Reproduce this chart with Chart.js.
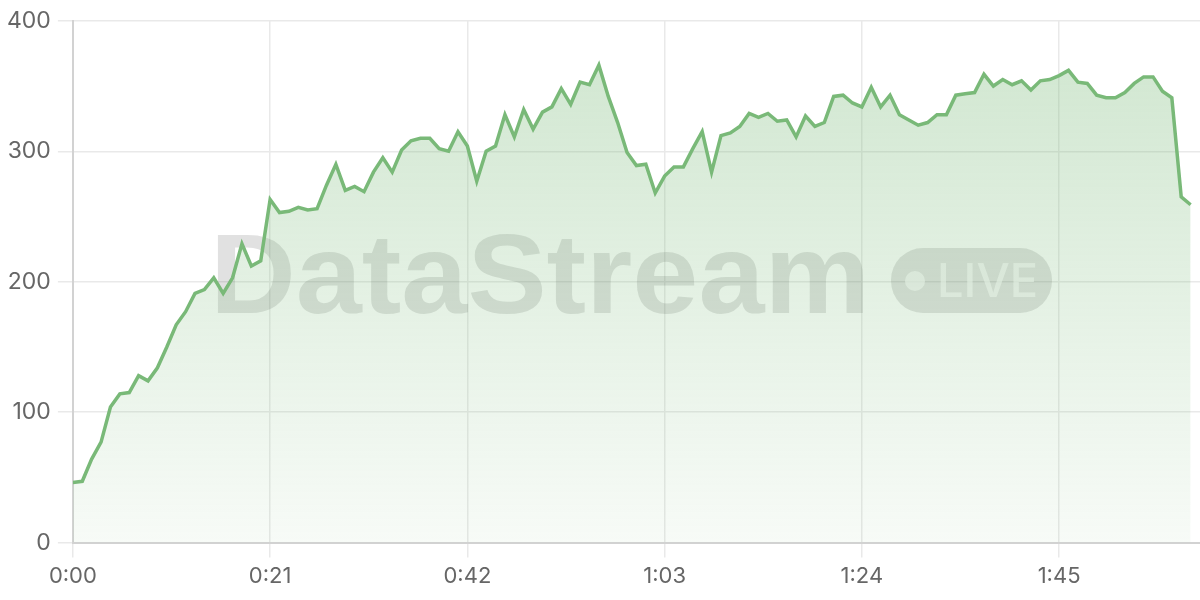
<!DOCTYPE html>
<html>
<head>
<meta charset="utf-8">
<script src="https://cdn.jsdelivr.net/npm/chart.js@4/dist/chart.umd.min.js"></script>
<style>
    html, body { margin: 0; padding: 0; background: #fff; }
    #wrap { width: 1200px; height: 600px; }
</style>
</head>
<body>
<div id="wrap"><canvas id="streamChart"></canvas></div>
<script>
// elapsed seconds, one sample per second
const seconds = Array.from({ length: 120 }, (_, i) => i);

const viewers = [
    46, 47, 64, 77, 104, 114, 115, 128, 124, 134,
    150, 167, 177, 191, 194, 203, 191, 203, 229, 212,
    216, 263, 253, 254, 257, 255, 256, 274, 290, 270,
    273, 269, 284, 295, 284, 301, 308, 310, 310, 302,
    300, 315, 304, 277, 300, 304, 328, 311, 332, 317,
    330, 334, 348, 336, 353, 351, 366, 342, 322, 299,
    289, 290, 268, 281, 288, 288, 302, 315, 284, 312,
    314, 319, 329, 326, 329, 323, 324, 311, 327, 319,
    322, 342, 343, 337, 334, 349, 334, 343, 328, 324,
    320, 322, 328, 328, 343, 344, 345, 359, 350, 355,
    351, 354, 347, 354, 355, 358, 362, 353, 352, 343,
    341, 341, 345, 352, 357, 357, 346, 341, 265, 259
];

const xTicks = [0, 21, 42, 63, 84, 105];
const xTickLabels = ['0:00', '0:21', '0:42', '1:03', '1:24', '1:45'];
const yTicks = [0, 100, 200, 300, 400];

document.addEventListener('DOMContentLoaded', () => {
    // watermark sits between the grid and the line
    const watermark = {
        id: 'watermark',
        beforeDatasetsDraw(chart) {
            const ctx = chart.ctx;
            ctx.save();
            ctx.fillStyle = 'rgba(70, 70, 70, 0.16)';
            ctx.font = 'bold 114px "Liberation Sans", Arial, sans-serif';
            ctx.textBaseline = 'alphabetic';
            ctx.textAlign = 'left';
            const w = ctx.measureText('DataStream').width;
            ctx.save();
            ctx.translate(210, 313);
            ctx.scale(660 / w, 1);
            ctx.fillText('DataStream', 0, 0);
            ctx.restore();

            // LIVE pill
            ctx.beginPath();
            ctx.roundRect(891, 248, 161, 65, 32);
            ctx.fill();

            ctx.fillStyle = 'rgba(255, 255, 255, 0.65)';
            ctx.beginPath();
            ctx.arc(915, 281, 10, 0, Math.PI * 2);
            ctx.fill();
            ctx.font = '500 47px Inter, "Noto Sans", sans-serif';
            ctx.fillText('LIVE', 937, 297);
            ctx.restore();
        }
    };

    const ctx = document.getElementById('streamChart').getContext('2d');
    new Chart(ctx, {
        type: 'line',
        data: {
            labels: seconds,
            datasets: [{
                label: 'Viewers',
                data: viewers,
                borderColor: '#79b978',
                borderWidth: 3.5,
                pointRadius: 0,
                tension: 0,
                fill: 'origin',
                backgroundColor: (c) => {
                    const area = c.chart.chartArea;
                    if (!area) return 'rgba(121, 185, 120, 0.2)';
                    const g = c.chart.ctx.createLinearGradient(0, area.top, 0, area.bottom);
                    g.addColorStop(0, 'rgba(121, 185, 120, 0.36)');
                    g.addColorStop(1, 'rgba(121, 185, 120, 0.06)');
                    return g;
                }
            }]
        },
        options: {
            responsive: true,
            maintainAspectRatio: false,
            animation: false,
            layout: { padding: { top: 8, right: 0, bottom: 4, left: 0 } },
            plugins: {
                legend: { display: false },
                tooltip: { enabled: false }
            },
            scales: {
                x: {
                    type: 'linear',
                    min: 0,
                    max: 120,
                    afterBuildTicks: (axis) => {
                        axis.ticks = xTicks.map(v => ({ value: v }));
                    },
                    ticks: {
                        autoSkip: false,
                        maxRotation: 0,
                        color: '#666',
                        font: { family: 'Inter', size: 22 },
                        padding: 6,
                        callback: (v) => xTickLabels[xTicks.indexOf(v)]
                    },
                    grid: { color: '#e9e9e9', lineWidth: 1.5, tickLength: 15 },
                    border: { color: '#d2d2d2', width: 2 }
                },
                y: {
                    min: 0,
                    max: 400,
                    afterBuildTicks: (axis) => {
                        axis.ticks = yTicks.map(v => ({ value: v }));
                    },
                    ticks: {
                        color: '#666',
                        font: { family: 'Inter', size: 23 },
                        padding: 7
                    },
                    grid: { color: '#e9e9e9', lineWidth: 1.5, tickLength: 15 },
                    border: { color: '#d2d2d2', width: 2 }
                }
            }
        },
        plugins: [watermark]
    });
});
</script>
</body>
</html>
